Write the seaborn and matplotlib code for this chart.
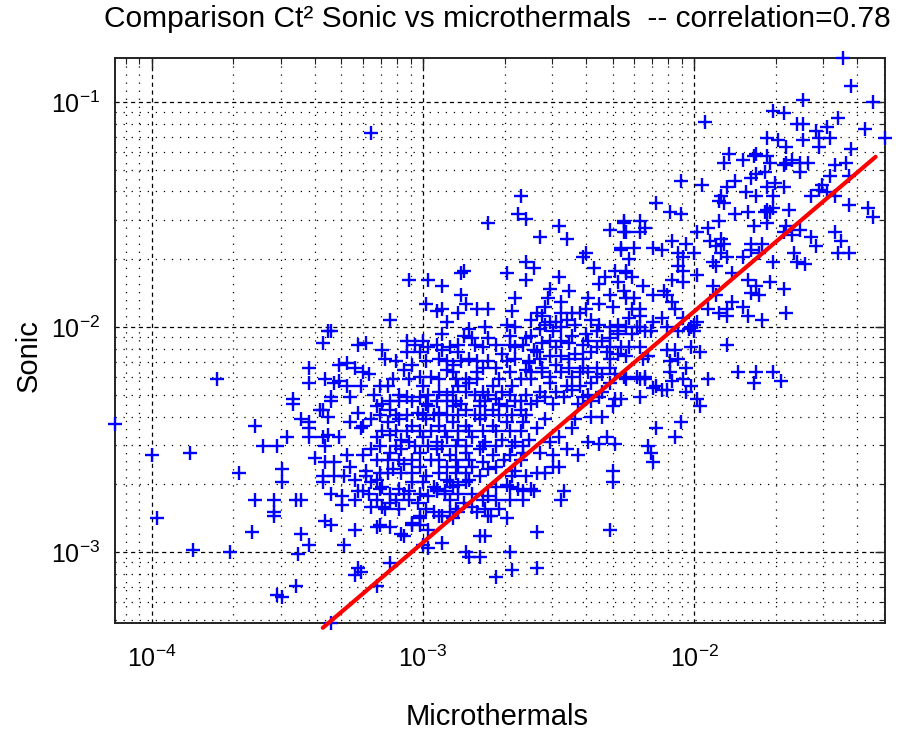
import numpy as np
import pandas as pd
import matplotlib
matplotlib.use("Agg")
import matplotlib.pyplot as plt
import matplotlib.ticker as mticker
import seaborn as sns

# log10 of Ct^2 from the microthermal sensors (x) and the sonic anemometer (y)
log_micro = [
    -3.35, -3.19, -2.64, -2.65, -2.62, -2.76, -2.50, -2.57, -2.47, -2.31,
    -2.26, -2.26, -2.27, -2.40, -2.41, -2.62, -2.59, -2.85, -2.86, -3.05,
    -2.98, -2.93, -2.69, -2.62, -2.50, -2.37, -2.33, -2.29, -2.25, -2.35,
    -2.46, -2.53, -2.54, -2.66, -2.86, -2.84, -2.99, -2.95, -2.93, -2.80,
    -2.76, -2.87, -2.67, -3.12, -2.91, -2.58, -2.56, -2.49, -2.39, -2.40,
    -2.35, -2.30, -2.31, -2.25, -2.45, -2.42, -2.38, -2.51, -2.49, -2.93,
    -2.83, -2.77, -2.69, -2.66, -2.82, -2.60, -2.52,
    # upper right branch
    -1.45, -1.42, -1.60, -1.34, -1.71, -1.67, -1.47, -1.96, -1.62, -1.60,
    -1.51, -1.55, -1.37, -1.73, -1.69, -1.60, -1.54, -1.50, -1.54, -1.296,
    -1.42, -1.66, -1.77, -1.73, -1.87, -1.89, -1.82, -1.78, -1.72, -1.66,
    -1.64, -1.61, -1.58, -1.67, -1.77, -1.74, -1.48, -1.44, -1.50, -1.43,
    -1.61, -1.85, -1.79, -1.88, -2.05, -1.97, -1.70, -1.67, -1.73, -1.53,
    -1.54, -1.51, -1.57, -1.90, -1.89, -1.91, -1.81, -1.77, -1.71, -1.71,
    -1.73, -1.72, -1.65, -1.74, -1.80, -1.85, -1.78, -1.73, -1.91, -2.14,
    -2.09, -2.05, -1.48, -1.43, -1.36, -1.34, -2.26, -2.20, -2.18, -2.20,
    -2.25, -1.95, -1.99, -1.66, -1.67, -1.64, -1.61, -1.57, -1.48, -1.46,
    -1.55, -1.47, -1.43, -2.08, -2.03, -2.12, -2.15, -2.22, -2.27, -2.00,
    -2.06, -1.94, -1.90, -1.89, -1.92, -1.79, -1.75, -1.79, -1.76, -1.90,
    -1.63, -2.04, -1.93, -1.88, -1.82, -1.71, -1.62, -1.59, -2.06, -2.04,
    -1.92, -2.25, -2.23, -2.08, -1.99, -1.86, -1.80, -1.77, -1.72, -1.67,
    -2.28, -2.19, -2.26, -2.15, -2.11, -2.10, -2.04, -1.93, -1.92, -1.79,
    -1.76, -2.22, -2.08, -2.07, -2.23, -2.20, -1.95, -1.91, -1.88, -1.88,
    -1.86, -1.82, -1.80, -1.75, -1.66, -2.15, -2.04, -2.20, -2.25, -2.10,
    -1.99, -2.02, -2.16, -2.23,
    # left wing
    -3.34, -3.37, -3.24, -3.42, -3.31, -3.28, -3.25, -3.22, -3.76, -3.42,
    -3.36, -3.33, -3.31, -3.28, -3.23, -3.48, -3.48, -3.34, -3.34, -3.27,
    -3.38, -3.37, -3.35, -3.24, -3.27, -3.45, -3.42, -3.42, -3.42, -3.62,
    -3.50, -4.136, -3.59, -3.54, -3.37, -3.35, -3.31, -3.36, -3.23, -3.22,
    -4.00, -3.86, -3.40, -3.36, -3.33, -3.28, -3.22, -3.27, -3.68, -3.52,
    -3.37, -3.33, -3.29, -3.37, -3.25, -3.21, -3.52, -3.34, -3.30, -3.25,
    -3.24, -3.62, -3.55, -3.47, -3.45, -3.30, -3.98, -3.55, -3.55, -3.63,
    -3.45, -3.36, -3.34, -3.25, -3.42, -3.46, -3.29, -3.85, -3.71, -3.24,
    -3.25, -3.47, -3.54, -3.52, -3.34,
    # lower part of the cloud
    -2.58, -2.31, -2.30, -2.30, -2.32, -2.35, -2.29, -2.43, -2.39, -2.50,
    -2.48, -2.49, -2.59, -2.63, -2.69, -2.75, -2.77, -2.79, -2.84, -2.83,
    -2.79, -2.68, -2.67, -2.73, -2.58, -3.17, -3.23, -3.17, -3.12, -3.07,
    -3.04, -3.01, -2.98, -2.98, -2.93, -2.93, -2.89, -2.96, -2.87, -2.80,
    -2.76, -2.73, -3.19, -3.17, -3.12, -3.10, -3.05, -3.02, -2.95, -2.92,
    -2.78, -3.22, -3.19, -3.15, -3.09, -3.04, -2.99, -2.96, -2.90, -2.87,
    -2.83, -2.79, -2.73, -2.69, -2.65, -3.21, -3.16, -3.11, -3.07, -3.01,
    -2.97, -2.91, -2.87, -2.82, -2.78, -2.73, -2.67, -2.62, -2.58, -2.55,
    -2.52,
    # right of the core
    -2.28, -2.21, -2.06, -2.00, -2.00, -2.24, -2.20, -2.25, -2.17, -2.10,
    -2.06, -1.98, -1.88, -2.09, -2.20, -2.25, -2.18, -2.08, -2.04, -1.95,
    -1.84, -1.77, -1.78, -1.71, -1.68, -2.15, -2.12, -2.03, -2.27, -1.98,
    -2.05, -2.14, -2.07, -2.17, -2.16, -2.15,
    # core, upper half
    -2.85, -2.76, -2.68, -2.62, -2.98, -2.90, -2.93, -2.78, -2.66, -2.59,
    -3.06, -3.01, -2.87, -2.71, -3.14, -2.94, -2.83, -2.66, -3.04, -2.89,
    -2.78, -2.73, -3.07, -2.91, -2.89, -2.62, -3.20, -2.68, -2.80, -2.60,
    -3.01, -2.84, -2.97, -3.16, -3.13, -3.00, -2.87, -2.83, -2.74, -2.67,
    -2.60, -2.94, -2.89, -2.84, -2.78, -2.71, -3.06, -3.01, -3.12, -3.04,
    -2.95, -2.88, -2.79, -2.73, -2.64, -2.60,
    # core, right half
    -2.24, -2.55, -2.20, -2.49, -2.12, -2.60, -2.53, -2.47, -2.24, -2.31,
    -2.57, -2.45, -2.40, -2.36, -2.31, -2.28, -2.18, -2.01, -2.56, -2.51,
    -2.46, -2.41, -2.36, -2.31, -2.27, -2.07, -2.01, -2.58, -2.53, -2.49,
    -2.44, -2.38, -2.32, -2.28, -2.19, -2.09, -2.03, -2.61, -2.56, -2.51,
    -2.46, -2.41, -2.36, -2.31, -2.56, -2.49, -2.42, -2.39, -2.34, -2.29,
    -2.21, -2.18, -2.53, -2.47, -2.42, -2.38, -2.31, -2.57, -2.51, -2.45,
    -2.39, -2.34, -2.14, -2.10, -2.58, -2.52, -2.29, -2.30, -2.20, -2.01,
    -1.99,
    # core, lower half
    -3.17, -3.12, -3.02, -2.98, -2.94, -2.89, -2.84, -2.79, -2.74, -2.69,
    -2.64, -3.19, -3.13, -3.09, -3.04, -2.99, -2.94, -2.89, -2.84, -2.79,
    -2.74, -2.69, -2.63, -2.58, -3.17, -3.12, -3.08, -3.05, -3.00, -2.95,
    -2.91, -2.87, -2.82, -2.77, -2.71, -2.66, -2.61, -3.19, -3.12, -3.08,
    -3.01, -2.95, -2.90, -2.84, -2.79, -2.74, -2.68, -2.63, -2.76, -2.66,
    -3.17, -3.16, -3.05, -3.00, -2.95, -2.91, -2.89, -2.84, -2.76, -2.68,
    -2.60, -3.15, -2.98, -2.90, -2.85, -2.82, -2.72, -2.90, -2.94, -3.04,
    -3.01, -3.16, -3.08, -3.01, -2.68, -2.63, -3.00, -3.12,
    # along the fitted line
    -2.53, -2.50, -2.45, -2.55, -2.57, -2.52, -2.47, -2.44, -2.38, -2.43,
    -2.38, -2.34, -3.21, -3.15, -3.06, -3.00,
    # densest part of the core
    -3.15, -3.09, -2.99, -2.91, -2.86, -2.77, -2.72, -2.66,
    -3.16, -3.10, -3.06, -3.00, -2.96, -2.91, -2.87, -2.81, -2.77, -2.72,
    -2.67, -2.62,
    -3.15, -3.10, -3.06, -3.01, -2.97, -2.92, -2.87, -2.83, -2.78, -2.73,
    -2.68, -2.64,
    -3.16, -3.10, -3.03, -2.98, -2.93, -2.88, -2.84, -2.78, -2.73, -2.67,
    -2.63,
    -3.17, -3.13, -3.09, -3.04, -2.94, -2.88, -2.83, -2.70, -2.64,
    -3.03, -2.95, -2.87, -2.81, -2.73, -2.68, -2.63,
    -3.10, -2.99, -2.91, -2.86, -2.80, -2.76, -2.69, -2.61,
    -3.11, -3.05, -2.94, -2.88, -2.80, -2.72, -2.64,
    -3.18, -3.09, -2.98, -2.91, -2.81, -2.76, -2.68, -2.62,
    -2.55, -2.44, -2.35, -2.28,
    -2.53, -2.49, -2.39, -2.34,
    -2.57, -2.46, -2.41, -2.31,
    -2.53, -2.45, -2.36, -2.26,
    -2.55, -2.48, -2.41, -2.35,
    -3.13, -3.08, -3.04, -2.94, -2.88, -2.84,
    -3.20, -3.12, -3.07, -3.01, -2.92, -2.87, -2.82,
    -3.14, -3.09, -2.99, -2.88, -2.77,
]

log_sonic = [
    -2.02, -1.14, -1.42, -1.50, -1.52, -1.54, -1.55, -1.60, -1.61, -1.57,
    -1.53, -1.58, -1.66, -1.67, -1.69, -1.71, -1.74, -1.75, -1.76, -1.79,
    -1.79, -1.82, -1.76, -1.79, -1.78, -1.74, -1.78, -1.75, -1.76, -1.81,
    -1.84, -1.83, -1.87, -1.87, -1.86, -1.90, -1.90, -1.93, -1.92, -1.92,
    -1.92, -1.94, -1.93, -1.97, -1.98, -1.94, -1.95, -1.89, -1.87, -1.92,
    -1.90, -1.91, -1.86, -1.87, -1.94, -1.94, -1.97, -1.98, -2.00, -2.03,
    -2.01, -2.00, -1.99, -2.00, -2.05, -2.04, -2.02,
    # upper right branch
    -0.805, -0.93, -0.99, -1.00, -1.04, -1.05, -1.07, -1.09, -1.10, -1.10,
    -1.11, -1.13, -1.12, -1.16, -1.17, -1.17, -1.16, -1.16, -1.20, -1.16,
    -1.21, -1.20, -1.23, -1.24, -1.23, -1.27, -1.26, -1.24, -1.27, -1.27,
    -1.26, -1.27, -1.27, -1.28, -1.32, -1.31, -1.28, -1.27, -1.33, -1.33,
    -1.31, -1.35, -1.34, -1.38, -1.35, -1.37, -1.36, -1.38, -1.38, -1.37,
    -1.39, -1.40, -1.42, -1.42, -1.45, -1.44, -1.40, -1.42, -1.42, -1.47,
    -1.48, -1.49, -1.48, -1.49, -1.49, -1.50, -1.55, -1.54, -1.53, -1.45,
    -1.49, -1.50, -1.42, -1.46, -1.47, -1.51, -1.54, -1.53, -1.56, -1.58,
    -1.58, -1.56, -1.58, -1.55, -1.58, -1.59, -1.57, -1.60, -1.58, -1.62,
    -1.64, -1.67, -1.67, -1.62, -1.63, -1.66, -1.65, -1.65, -1.65, -1.67,
    -1.67, -1.62, -1.61, -1.63, -1.64, -1.63, -1.63, -1.66, -1.67, -1.67,
    -1.67, -1.69, -1.71, -1.69, -1.69, -1.71, -1.71, -1.72, -1.73, -1.75,
    -1.73, -1.75, -1.78, -1.79, -1.77, -1.76, -1.79, -1.82, -1.80, -1.83,
    -1.80, -1.82, -1.84, -1.86, -1.84, -1.86, -1.80, -1.82, -1.86, -1.85,
    -1.86, -1.87, -1.89, -1.92, -1.92, -1.95, -1.92, -1.94, -1.92, -1.95,
    -1.89, -1.91, -1.95, -1.97, -1.94, -1.98, -1.96, -2.00, -2.00, -2.00,
    -1.98, -2.01, -2.02, -2.03,
    # left wing
    -2.02, -2.07, -2.08, -2.18, -2.17, -2.16, -2.18, -2.20, -2.23, -2.25,
    -2.23, -2.25, -2.24, -2.26, -2.26, -2.32, -2.34, -2.31, -2.33, -2.31,
    -2.37, -2.37, -2.40, -2.38, -2.42, -2.41, -2.42, -2.45, -2.49, -2.44,
    -2.49, -2.43, -2.53, -2.53, -2.49, -2.48, -2.49, -2.53, -2.45, -2.44,
    -2.57, -2.56, -2.58, -2.60, -2.60, -2.57, -2.57, -2.62, -2.65, -2.63,
    -2.66, -2.66, -2.66, -2.69, -2.68, -2.66, -2.69, -2.74, -2.75, -2.77,
    -2.73, -2.77, -2.77, -2.77, -2.77, -2.79, -2.85, -2.82, -2.84, -2.91,
    -2.92, -2.86, -2.88, -2.90, -2.97, -3.01, -2.97, -2.99, -3.00, -3.07,
    -3.10, -3.15, -3.19, -3.20, -3.315,
    # lower part of the cloud
    -2.91, -2.90, -2.64, -2.69, -2.49, -2.52, -2.52, -2.57, -2.51, -2.62,
    -2.73, -2.77, -2.73, -2.73, -2.85, -2.84, -2.93, -2.93, -3.00, -3.02,
    -3.02, -3.00, -3.08, -3.11, -3.07, -3.15, -3.09, -2.89, -2.89, -2.93,
    -2.88, -2.85, -2.90, -2.98, -2.84, -2.96, -2.85, -2.82, -2.82, -2.82,
    -2.84, -2.77, -2.80, -2.77, -2.78, -2.77, -2.77, -2.78, -2.73, -2.73,
    -2.77, -2.73, -2.69, -2.71, -2.72, -2.69, -2.66, -2.71, -2.69, -2.70,
    -2.68, -2.66, -2.71, -2.70, -2.72, -2.64, -2.65, -2.63, -2.61, -2.62,
    -2.59, -2.62, -2.62, -2.62, -2.60, -2.62, -2.66, -2.66, -2.65, -2.65,
    -2.62,
    # right of the core
    -2.02, -2.00, -2.02, -1.99, -2.02, -2.09, -2.09, -2.13, -2.13, -2.10,
    -2.14, -2.11, -2.08, -2.20, -2.23, -2.23, -2.23, -2.24, -2.23, -2.23,
    -2.20, -2.20, -2.25, -2.20, -2.24, -2.27, -2.28, -2.29, -2.32, -2.35,
    -2.42, -2.45, -2.49, -2.53, -2.56, -2.60,
    # core, upper half
    -2.04, -2.05, -2.04, -2.05, -2.09, -2.09, -2.10, -2.09, -2.09, -2.10,
    -2.11, -2.11, -2.11, -2.12, -2.14, -2.14, -2.14, -2.14, -2.17, -2.17,
    -2.18, -2.18, -2.19, -2.19, -2.20, -2.19, -2.21, -2.20, -2.20, -2.20,
    -2.22, -2.23, -2.22, -2.26, -2.26, -2.26, -2.26, -2.25, -2.26, -2.26,
    -2.23, -2.29, -2.29, -2.29, -2.29, -2.29, -2.31, -2.31, -2.33, -2.33,
    -2.33, -2.33, -2.33, -2.32, -2.33, -2.34,
    # core, right half
    -1.70, -1.91, -1.92, -1.94, -1.96, -1.97, -1.98, -1.97, -1.96, -2.00,
    -2.01, -2.04, -2.03, -2.02, -2.05, -2.03, -2.02, -2.00, -2.07, -2.09,
    -2.07, -2.08, -2.09, -2.09, -2.09, -2.10, -2.09, -2.11, -2.13, -2.13,
    -2.12, -2.11, -2.11, -2.12, -2.14, -2.15, -2.18, -2.16, -2.18, -2.17,
    -2.18, -2.18, -2.18, -2.18, -2.20, -2.20, -2.20, -2.20, -2.21, -2.21,
    -2.22, -2.22, -2.25, -2.26, -2.26, -2.25, -2.25, -2.29, -2.29, -2.28,
    -2.30, -2.29, -2.26, -2.28, -2.33, -2.34, -2.32, -2.35, -2.31, -2.26,
    -2.32,
    # core, lower half
    -2.35, -2.37, -2.38, -2.35, -2.38, -2.35, -2.37, -2.35, -2.37, -2.35,
    -2.37, -2.41, -2.42, -2.41, -2.44, -2.41, -2.44, -2.42, -2.44, -2.41,
    -2.44, -2.42, -2.42, -2.45, -2.49, -2.48, -2.50, -2.51, -2.49, -2.51,
    -2.49, -2.50, -2.49, -2.51, -2.50, -2.51, -2.50, -2.54, -2.56, -2.54,
    -2.56, -2.54, -2.57, -2.56, -2.54, -2.57, -2.57, -2.56, -2.63, -2.64,
    -2.68, -2.72, -2.73, -2.69, -2.72, -2.68, -2.71, -2.69, -2.75, -2.71,
    -2.72, -2.80, -2.75, -2.77, -2.78, -2.80, -2.81, -2.82, -2.84, -2.87,
    -2.84, -2.88, -2.92, -2.88, -2.77, -2.77, -2.97, -3.05,
    # along the fitted line
    -2.51, -2.49, -2.45, -2.41, -2.56, -2.57, -2.54, -2.41, -2.40, -2.34,
    -2.33, -2.40, -2.07, -2.10, -2.06, -2.06,
    # densest part of the core
    -2.34, -2.33, -2.34, -2.33, -2.34, -2.33, -2.34, -2.33,
    -2.39, -2.39, -2.39, -2.39, -2.39, -2.39, -2.39, -2.39, -2.39, -2.39,
    -2.39, -2.39,
    -2.46, -2.46, -2.46, -2.46, -2.46, -2.46, -2.46, -2.46, -2.46, -2.46,
    -2.46, -2.46,
    -2.53, -2.53, -2.53, -2.53, -2.53, -2.53, -2.53, -2.53, -2.53, -2.53,
    -2.53,
    -2.59, -2.59, -2.59, -2.59, -2.59, -2.59, -2.59, -2.59, -2.59,
    -2.08, -2.08, -2.08, -2.08, -2.08, -2.08, -2.08,
    -2.15, -2.15, -2.15, -2.15, -2.15, -2.15, -2.15, -2.15,
    -2.23, -2.23, -2.23, -2.23, -2.23, -2.23, -2.23,
    -2.30, -2.30, -2.30, -2.30, -2.30, -2.30, -2.30, -2.30,
    -1.99, -1.99, -1.99, -1.99,
    -2.06, -2.06, -2.06, -2.06,
    -2.14, -2.14, -2.14, -2.14,
    -2.22, -2.22, -2.22, -2.22,
    -2.31, -2.31, -2.31, -2.31,
    -2.65, -2.65, -2.65, -2.65, -2.65, -2.65,
    -2.74, -2.74, -2.74, -2.74, -2.74, -2.74, -2.74,
    -2.81, -2.81, -2.81, -2.81, -2.81,
]

# end points of the fitted power law drawn in red
fit_micro = [4.27e-4, 4.67e-2]
fit_sonic = [4.61e-4, 5.70e-2]

title_text = "Comparison Ct\u00b2 Sonic vs microthermals  -- correlation=0.78"
x_label = "Microthermals"
y_label = "Sonic"

sns.set_theme(style="white")
plt.rcParams["font.family"] = ["Liberation Sans", "DejaVu Sans"]
plt.rcParams["mathtext.fontset"] = "custom"
plt.rcParams["mathtext.rm"] = "Liberation Sans"
plt.rcParams["mathtext.it"] = "Liberation Sans:italic"
plt.rcParams["lines.scale_dashes"] = False
plt.rcParams["text.color"] = "black"
plt.rcParams["axes.labelcolor"] = "black"
plt.rcParams["xtick.labelcolor"] = "black"
plt.rcParams["ytick.labelcolor"] = "black"

df = pd.DataFrame({
    "Microthermals": 10.0 ** np.array(log_micro),
    "Sonic": 10.0 ** np.array(log_sonic),
})
fit_df = pd.DataFrame({"Microthermals": fit_micro, "Sonic": fit_sonic})

fig = plt.figure(figsize=(9.03, 7.29), dpi=100)
ax = fig.add_axes([115 / 903, 1 - 623 / 729, 770 / 903, 565 / 729])
ax.set_xscale("log")
ax.set_yscale("log")

sns.scatterplot(data=df, x="Microthermals", y="Sonic", marker="+",
                color="#0000ff", s=115, linewidth=1.7, ax=ax,
                zorder=3, clip_on=False, legend=False)
sns.lineplot(data=fit_df, x="Microthermals", y="Sonic", color="#ff0000",
             linewidth=3.0, ax=ax, zorder=4, clip_on=False, sort=False)

# tight limits on the data extent
ax.set_xlim(df["Microthermals"].min(), df["Microthermals"].max())
ax.set_ylim(df["Sonic"].min(), df["Sonic"].max())

for axis in (ax.xaxis, ax.yaxis):
    axis.set_major_locator(mticker.LogLocator(base=10, numticks=10))
    axis.set_minor_locator(mticker.LogLocator(base=10, subs=np.arange(2, 10), numticks=100))
    axis.set_major_formatter(mticker.FuncFormatter(
        lambda v, p: r"$\mathregular{10^{%d}}$" % int(round(np.log10(v)))))
    axis.set_minor_formatter(mticker.NullFormatter())

ax.grid(True, which="major", color="black", linestyle=(0, (3.0, 2.6)), linewidth=0.9, zorder=0)
ax.grid(True, which="minor", color="black", linestyle=(0, (0.9, 4.9)), linewidth=0.9, zorder=0)
ax.set_axisbelow(True)

ax.tick_params(which="both", direction="in", top=True, right=True, color="#222222")
ax.tick_params(which="major", length=7, width=1.0)
ax.tick_params(which="minor", length=4, width=0.8)
ax.tick_params(axis="x", which="major", labelsize=18, pad=16)
ax.tick_params(axis="y", which="major", labelsize=18, pad=11)

for side in ax.spines.values():
    side.set_color("#222222")
    side.set_linewidth(1.4)

ax.set_xlabel(x_label, fontsize=21)
ax.set_ylabel(y_label, fontsize=21)
ax.xaxis.label.set_va("center")
ax.yaxis.label.set_va("center")
ax.xaxis.set_label_coords(0.496, -0.166)
ax.yaxis.set_label_coords(-0.112, 0.474)

ax.set_title(title_text, fontsize=21.5, x=0.496, y=(623 - 35) / 565, va="baseline")

fig.savefig("out.png", dpi=100)
